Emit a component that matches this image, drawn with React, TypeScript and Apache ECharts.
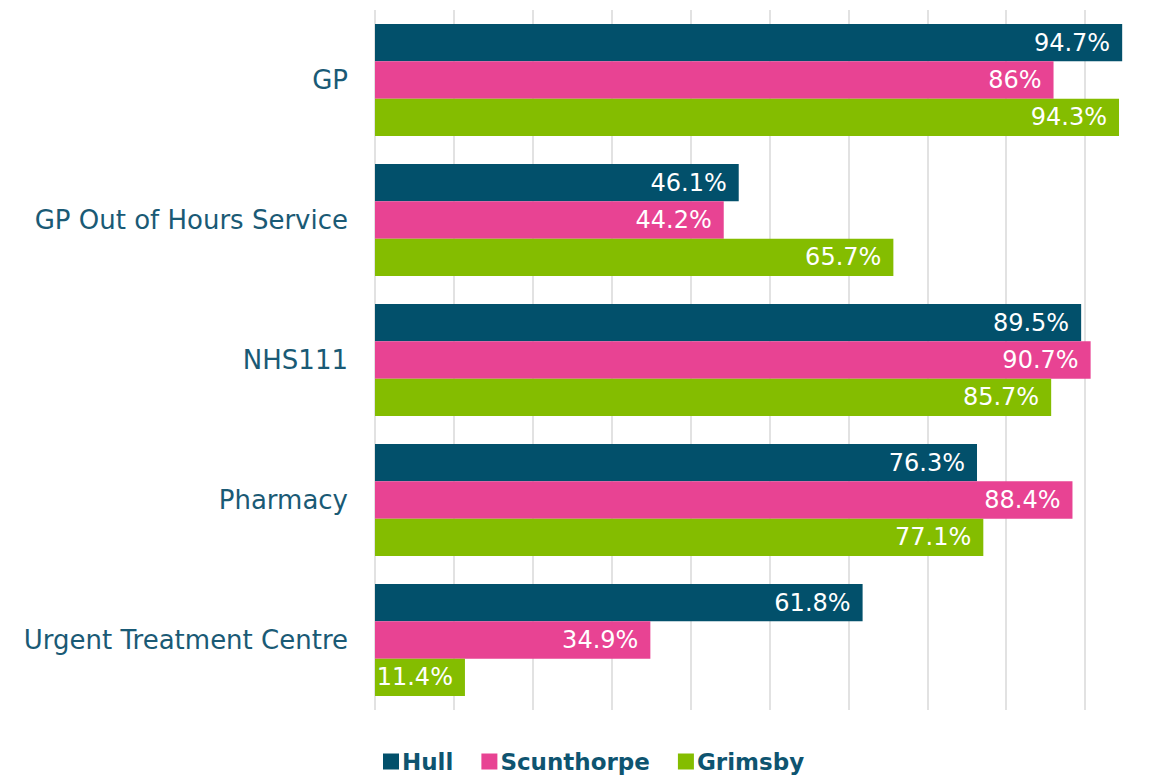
import React, { useEffect, useRef } from "react";
import * as echarts from "echarts";

const categories = ["GP", "GP Out of Hours Service", "NHS111", "Pharmacy", "Urgent Treatment Centre"];
const hull = [94.7, 46.1, 89.5, 76.3, 61.8];
const scunthorpe = [86, 44.2, 90.7, 88.4, 34.9];
const grimsby = [94.3, 65.7, 85.7, 77.1, 11.4];
const seriesNames = ["Hull", "Scunthorpe", "Grimsby"];
const colors = ["#02506b", "#e84393", "#84bd00"];

const FONT = "'DejaVu Sans', sans-serif";

export default function App() {
  const ref = useRef<HTMLDivElement>(null);
  useEffect(() => {
    if (!ref.current) return;
    const chart = echarts.init(ref.current, undefined, { renderer: "svg" });
    const data = [hull, scunthorpe, grimsby];
    chart.setOption({
      animation: false,
      textStyle: { fontFamily: FONT },
      grid: { left: 367, right: 0, top: 2, height: 700, containLabel: false },
      legend: {
        data: seriesNames,
        left: 370,
        top: 737,
        itemWidth: 16,
        itemHeight: 16,
        itemGap: 28,
        icon: "rect",
        textStyle: { fontFamily: FONT, fontSize: 23, fontWeight: "bold", color: "#0e5470", padding: [0, 0, 0, -2] },
      },
      xAxis: {
        type: "value",
        min: 0,
        max: 100,
        interval: 10,
        axisLabel: { show: false },
        axisLine: { show: false },
        axisTick: { show: false },
        splitLine: { show: true, lineStyle: { color: "#d9d9d9", width: 1.5 } },
      },
      yAxis: {
        type: "category",
        data: categories,
        inverse: true,
        axisLine: { show: false },
        axisTick: { show: false },
        axisLabel: { fontFamily: FONT, fontSize: 26, color: "#1a5a75", margin: 27 },
      },
      series: data.map((d, i) => ({
        name: seriesNames[i],
        type: "bar",
        data: d,
        barGap: "0%",
        barCategoryGap: "20%",
        itemStyle: { color: colors[i] },
        label: {
          show: true,
          position: "insideRight",
          distance: 12,
          formatter: "{c}%",
          color: "#ffffff",
          fontFamily: FONT,
          fontSize: 24,
        },
      })),
    });
    return () => chart.dispose();
  }, []);
  return <div ref={ref} style={{ width: 1156, height: 768 }} />;
}
